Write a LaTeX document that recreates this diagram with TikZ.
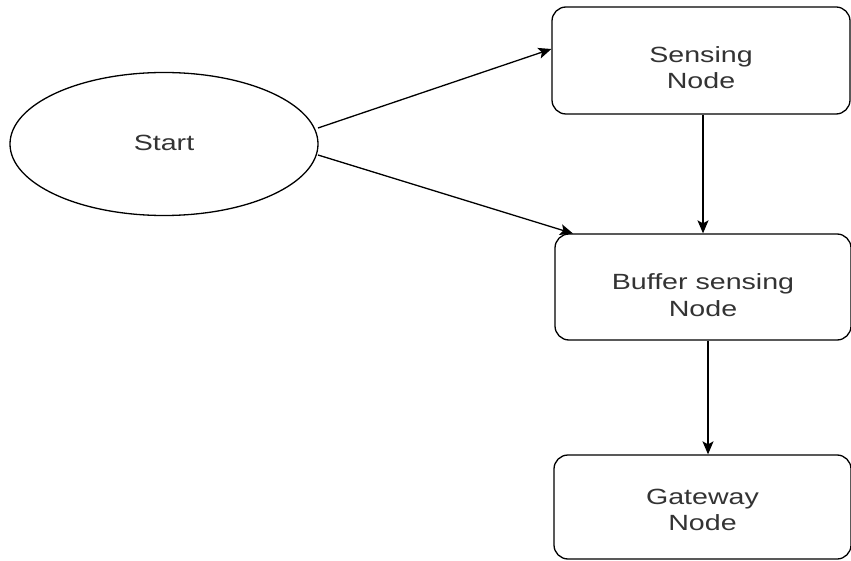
\documentclass[tikz,border=0pt]{standalone}
\usepackage{fontspec}
\setmainfont[FakeStretch=1.3]{Liberation Sans}
\usetikzlibrary{arrows.meta,shapes.geometric}
\begin{document}
\begin{tikzpicture}[x=1pt,y=1pt,
  box/.style={draw,line width=1.3pt,rounded corners=14pt,inner sep=0pt},
  lbl/.style={align=center,inner sep=0pt,font=\fontsize{22}{26.5}\selectfont,text=black!80},
  conn/.style={line width=1.3pt,-{Stealth[length=13pt,width=11pt,inset=3pt]}}]
\useasboundingbox (0,0) rectangle (851,-561);
\node[draw,line width=1.3pt,ellipse,minimum width=308pt,minimum height=143pt,inner sep=0pt] (start) at (164,-144) {};
\node[lbl] (tstart) at (164,-143) {Start};
\node[box,minimum width=298pt,minimum height=107pt] (sens) at (701,-60.5) {};
\node[lbl] (tsens) at ([yshift=-7pt]sens.center) {Sensing\\Node};
\node[box,minimum width=296pt,minimum height=106pt] (buf) at (703,-287) {};
\node[lbl] (tbuf) at ([yshift=-8pt]buf.center) {Buffer sensing\\Node};
\node[box,minimum width=297pt,minimum height=104pt] (gw) at (702.5,-507) {};
\node[lbl] (tgw) at ([yshift=-3pt]gw.center) {Gateway\\Node};
\coordinate (s1) at (318,-128);
\coordinate (s2) at (318,-155);
\draw[conn] (s1) -- (sens.west |- 0,-49);
\draw[conn] (s2) -- (573,-233.5) coordinate (b1);
\draw[conn] (sens.south -| 703,0) -- (buf.north -| 703,0);
\draw[conn] (buf.south -| 708,0) -- (gw.north -| 708,0);
\end{tikzpicture}
\end{document}
